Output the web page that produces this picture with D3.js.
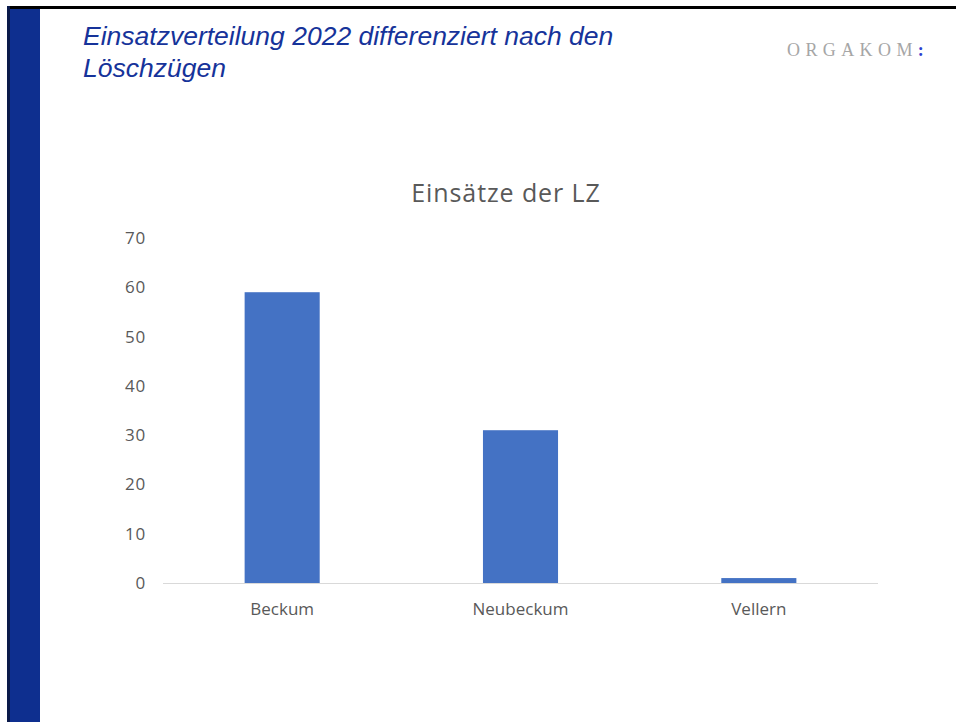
<!DOCTYPE html>
<html><head><meta charset="utf-8">
<script src="https://cdn.jsdelivr.net/npm/d3@7"></script>
<style>body{margin:0;background:#fff;}svg{display:block;}</style>
</head><body>
<script>
const categories = ["Beckum", "Neubeckum", "Vellern"];
const values = [59, 31, 1];
const yTicks = [0, 10, 20, 30, 40, 50, 60, 70];

const W = 956, H = 722;
const svg = d3.select("body").append("svg").attr("width", W).attr("height", H);

// frame
svg.append("rect").attr("x", 7).attr("y", 6).attr("width", W - 7).attr("height", 3).attr("fill", "#000");
svg.append("rect").attr("x", 7).attr("y", 6).attr("width", 3).attr("height", H - 6).attr("fill", "#0a1a4a");
svg.append("rect").attr("x", 10).attr("y", 9).attr("width", 30).attr("height", H - 9).attr("fill", "#0e2f8f");

// header
const hdr = svg.append("text").attr("font-family", "Liberation Sans, Arial, sans-serif")
  .attr("font-style", "italic").attr("font-size", 26.5).attr("fill", "#16339a");
hdr.append("tspan").attr("x", 83).attr("y", 45).text("Einsatzverteilung 2022 differenziert nach den");
hdr.append("tspan").attr("x", 83).attr("y", 77).text("Löschzügen");

const logo = svg.append("text").attr("x", 787).attr("y", 56)
  .attr("font-family", "Liberation Serif, Times New Roman, serif").attr("font-size", 18)
  .attr("letter-spacing", 5.4).attr("fill", "#a6a6a6");
logo.append("tspan").text("ORGAKOM");
logo.append("tspan").attr("fill", "#2b3fd0").attr("font-weight", "bold").text(":");

// chart
const x = d3.scaleBand().domain(categories).range([163, 878]).paddingInner(0.685).paddingOuter(0.3425);
const y = d3.scaleLinear().domain([0, 70]).range([583, 238]);

svg.append("text").attr("x", 506).attr("y", 202).attr("text-anchor", "middle")
  .attr("font-family", "Open Sans, sans-serif").attr("font-size", 25).attr("letter-spacing", 0.9)
  .attr("fill", "#595959")
  .text("Einsätze der LZ");

const yAxis = svg.append("g").attr("transform", "translate(146,0)")
  .call(d3.axisLeft(y).tickValues(yTicks).tickSize(0).tickPadding(0));
yAxis.select(".domain").remove();
yAxis.selectAll("text").attr("font-family", "Open Sans, sans-serif").attr("font-size", 17)
  .attr("letter-spacing", 0.8).attr("fill", "#595959");

svg.selectAll("rect.bar").data(values).enter().append("rect").attr("class", "bar")
  .attr("x", (d, i) => x(categories[i]))
  .attr("width", x.bandwidth())
  .attr("y", d => y(d))
  .attr("height", d => y(0) - y(d))
  .attr("fill", "#4472c4");

svg.append("line").attr("x1", 163).attr("x2", 878).attr("y1", y(0) + 0.5).attr("y2", y(0) + 0.5)
  .attr("stroke", "#d9d9d9").attr("stroke-width", 1);

const xAxis = svg.append("g").attr("transform", `translate(0,${y(0)})`)
  .call(d3.axisBottom(x).tickSize(0).tickPadding(20));
xAxis.select(".domain").remove();
xAxis.selectAll("text").attr("font-family", "Open Sans, sans-serif").attr("font-size", 17)
  .attr("fill", "#595959");
</script>
</body></html>
